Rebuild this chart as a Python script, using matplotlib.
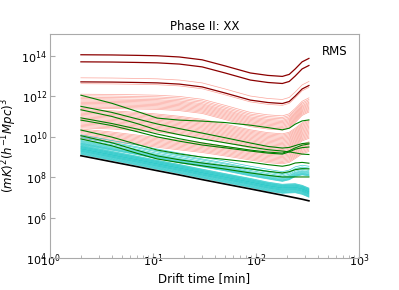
import numpy as np
import matplotlib
matplotlib.use("Agg")
import matplotlib.pyplot as plt
from matplotlib.ticker import LogLocator, NullLocator

# drift times (min) where curves are sampled
drift = np.array([2, 4, 7, 11, 18, 30, 50, 88, 130, 180, 210, 240, 280, 326])

# profiles, log10 change relative to the value at 2 min
shape_top = [0, -0.01, -0.03, -0.05, -0.11, -0.25, -0.55, -0.90, -1.02, -1.07, -0.97, -0.70, -0.35, -0.18]
shape_mid = [0, -0.06, -0.14, -0.22, -0.33, -0.48, -0.72, -1.00, -1.14, -1.20, -1.12, -0.92, -0.65, -0.52]
shape_low = [0, -0.15, -0.30, -0.42, -0.55, -0.68, -0.85, -1.05, -1.18, -1.24, -1.17, -0.98, -0.75, -0.63]
shape_cyan_a = [0, -0.28, -0.50, -0.70, -0.90, -1.10, -1.30, -1.55, -1.70, -1.82, -1.74, -1.58, -1.50, -1.55]
shape_cyan_b = [0, -0.30, -0.54, -0.74, -0.95, -1.18, -1.40, -1.64, -1.82, -1.93, -1.91, -1.90, -1.98, -2.12]

# log10 start levels
darkred_start = [14.05, 13.70, 12.71]
red_top_start = [12.91, 12.62, 12.10, 12.02, 11.95, 11.88, 11.82, 11.76, 11.70,
                 11.64, 11.58, 11.52, 11.46, 11.40]
red_mid_start = [11.34, 11.28, 11.22, 11.16, 11.10, 11.04, 10.98, 10.92, 10.86,
                 10.80, 10.74, 10.68, 10.62, 10.56, 10.50, 10.44]
red_low_start = [10.38, 10.32, 10.26, 10.20, 10.14, 10.08, 10.02, 9.96, 9.90]
cyan_a_start = [10.09, 10.00, 9.95, 9.88, 9.82, 9.78, 9.74, 9.70, 9.67, 9.64, 9.61]
cyan_b_start = [9.58, 9.55, 9.52, 9.50, 9.47, 9.45, 9.42, 9.40, 9.38, 9.35, 9.33,
                9.30, 9.28, 9.25, 9.22, 9.19, 9.16, 9.13]

# green curves, log10 values at the drift times
green_lines = [
    [12.05, 11.65, 11.25, 10.92, 10.82, 10.77, 10.70, 10.57, 10.45, 10.34, 10.42, 10.62, 10.78, 10.83],
    [11.50, 11.20, 10.88, 10.63, 10.40, 10.18, 9.95, 9.69, 9.52, 9.44, 9.47, 9.56, 9.66, 9.69],
    [11.33, 11.00, 10.65, 10.33, 10.10, 9.89, 9.70, 9.49, 9.36, 9.29, 9.25, 9.20, 9.14, 9.12],
    [10.93, 10.65, 10.38, 10.13, 9.90, 9.69, 9.52, 9.34, 9.24, 9.19, 9.30, 9.45, 9.58, 9.64],
    [10.82, 10.55, 10.25, 9.99, 9.78, 9.59, 9.45, 9.29, 9.19, 9.14, 9.25, 9.38, 9.46, 9.49],
    [10.33, 9.98, 9.62, 9.34, 9.15, 8.99, 8.88, 8.74, 8.62, 8.54, 8.60, 8.70, 8.73, 8.69],
    [10.05, 9.70, 9.33, 9.05, 8.86, 8.70, 8.56, 8.41, 8.29, 8.21, 8.27, 8.37, 8.42, 8.41],
    [9.89, 9.55, 9.18, 8.90, 8.72, 8.56, 8.40, 8.21, 8.09, 8.01, 8.01, 8.01, 8.01, 8.01],
]
black_line = [9.06, 8.76, 8.52, 8.32, 8.11, 7.88, 7.66, 7.42, 7.25, 7.11, 7.04, 6.98, 6.91, 6.83]

fig = plt.figure(figsize=(3.99, 2.90), dpi=100)
ax = fig.add_axes([0.125, 0.11, 0.775, 0.773])

for s in red_top_start:
    ax.plot(drift, 10 ** (s + np.array(shape_top)), color="salmon", lw=0.5, alpha=0.7)
for s in red_mid_start:
    ax.plot(drift, 10 ** (s + np.array(shape_mid)), color="salmon", lw=0.5, alpha=0.7)
for s in red_low_start:
    ax.plot(drift, 10 ** (s + np.array(shape_low)), color="salmon", lw=0.5, alpha=0.7)
for s in cyan_a_start:
    ax.plot(drift, 10 ** (s + np.array(shape_cyan_a)), color="c", lw=0.5, alpha=0.75)
for s in cyan_b_start:
    ax.plot(drift, 10 ** (s + np.array(shape_cyan_b)), color="c", lw=0.5, alpha=0.75)
for g in green_lines:
    ax.plot(drift, 10 ** np.array(g), color="green", lw=0.8)
for s in darkred_start:
    ax.plot(drift, 10 ** (s + np.array(shape_top)), color="darkred", lw=0.9)
ax.plot(drift, 10 ** np.array(black_line), color="k", lw=1.2)

ax.set_xscale("log")
ax.set_yscale("log")
ax.set_xlim(1, 1000)
ax.set_ylim(1e4, 1.2e15)
ax.yaxis.set_major_locator(LogLocator(base=100))
ax.yaxis.set_minor_locator(NullLocator())

for sp in ax.spines.values():
    sp.set_color("#aaaaaa")
ax.tick_params(axis="both", which="both", direction="in", labelsize=8,
               colors="#aaaaaa", labelcolor="black")
ax.tick_params(axis="y", pad=2)
ax.tick_params(axis="x", pad=-4)

ax.set_title("Phase II: XX", fontsize=8.5, pad=3)
ax.set_xlabel("Drift time [min]", fontsize=8.5, labelpad=2)
ax.set_ylabel(r"$(mK)^2(h^{-1}Mpc)^3$", fontsize=8.5, labelpad=2)
ax.text(0.88, 0.95, "RMS", transform=ax.transAxes, fontsize=8.5, va="top")

fig.savefig("out.png", dpi=100)
